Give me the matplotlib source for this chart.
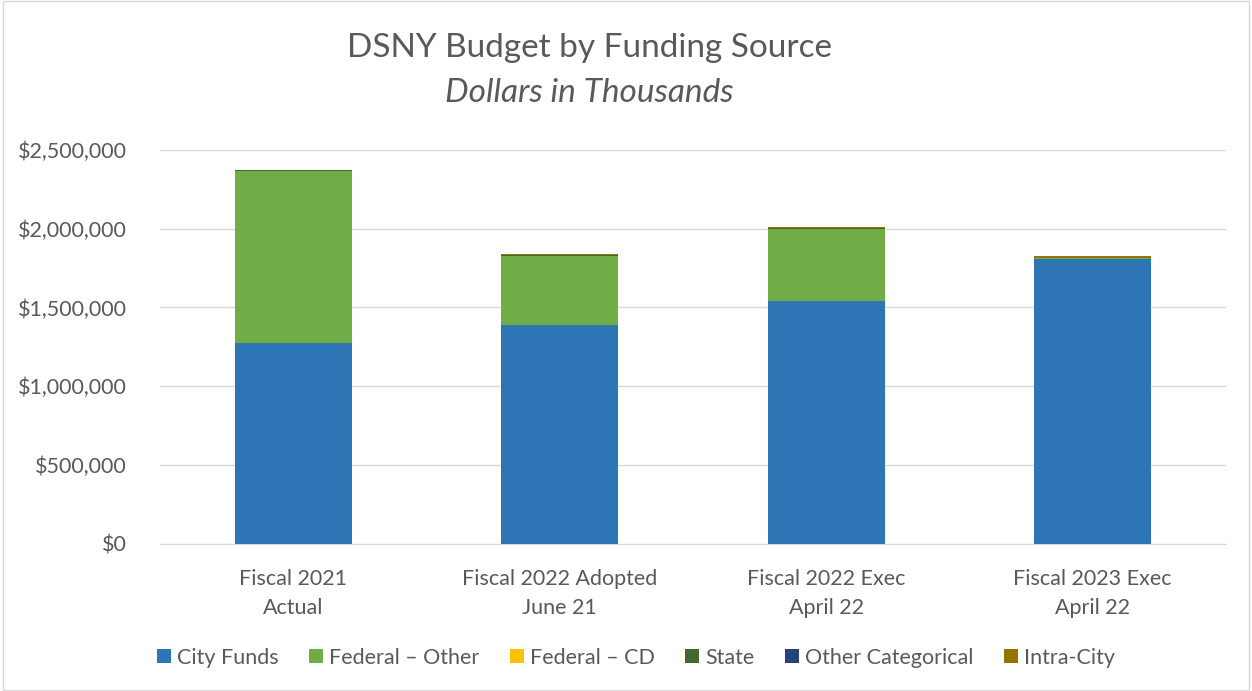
import numpy as np
import matplotlib.pyplot as plt
from matplotlib.patches import Rectangle
from matplotlib.ticker import FuncFormatter

plt.rcParams['font.family'] = ['Lato', 'DejaVu Sans']

# Datos (miles de dólares)
categorias = ["Fiscal 2021\nActual", "Fiscal 2022 Adopted\nJune 21",
              "Fiscal 2022 Exec\nApril 22", "Fiscal 2023 Exec\nApril 22"]
city_funds = [1275000, 1390000, 1540000, 1808000]
federal_other = [1093000, 440000, 458000, 5000]
federal_cd = [0, 0, 0, 0]
state = [2000, 2000, 6000, 3000]
other_categorical = [0, 0, 0, 0]
intra_city = [4000, 9000, 9000, 10000]

series = ["City Funds", "Federal – Other", "Federal – CD", "State",
          "Other Categorical", "Intra-City"]
colores = ["#2E75B6", "#70AD47", "#FFC000", "#43682B", "#264478", "#997300"]
valores = [city_funds, federal_other, federal_cd, state, other_categorical, intra_city]

fig = plt.figure(figsize=(12.52, 6.91), dpi=100)
ax = fig.add_axes([0.128, 0.213, 0.851, 0.57])

x = np.arange(len(categorias))
base = np.zeros(len(categorias))
for nombre, color, vals in zip(series, colores, valores):
    ax.bar(x, vals, bottom=base, width=0.44, color=color, label=nombre, zorder=3)
    base += np.array(vals)

ax.set_xlim(-0.5, 3.5)
ax.set_ylim(0, 2500000)
ax.set_yticks(np.arange(0, 2500001, 500000))
ax.yaxis.set_major_formatter(FuncFormatter(lambda v, p: f"${v:,.0f}"))
ax.grid(axis="y", color="#D9D9D9", linewidth=1, zorder=0)
for s in ["top", "right", "left"]:
    ax.spines[s].set_visible(False)
ax.spines["bottom"].set_color("#D9D9D9")
ax.tick_params(axis="y", length=0, labelsize=15.5, colors="#595959", pad=24)
ax.tick_params(axis="x", length=0, labelsize=15.5, colors="#595959", pad=18)
ax.set_xticks(x)
ax.set_xticklabels(categorias, linespacing=1.6)

fig.text(0.471, 0.93, "DSNY Budget by Funding Source", ha="center", va="center",
         fontsize=24, color="#595959")
fig.text(0.471, 0.865, "Dollars in Thousands", ha="center", va="center",
         fontsize=24, color="#595959", style="italic")

fig.legend(loc="center", bbox_to_anchor=(0.508, 0.048), ncol=6, frameon=False,
           fontsize=15.5, handlelength=0.65, handleheight=0.65, handletextpad=0.3,
           columnspacing=1.4, labelcolor="#595959")

fig.patches.append(Rectangle((0.002, 0.002), 0.996, 0.996, transform=fig.transFigure,
                             fill=False, edgecolor="#D9D9D9", linewidth=1))

plt.savefig("out.png", dpi=100)
